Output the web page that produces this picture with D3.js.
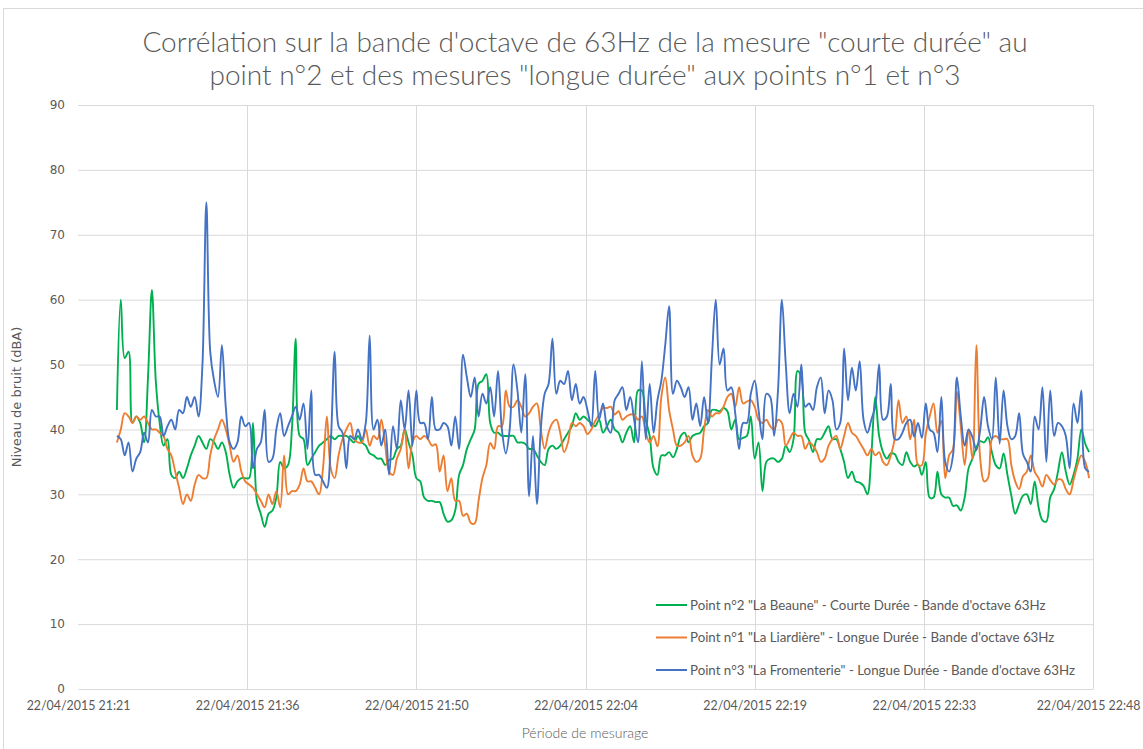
<!DOCTYPE html>
<html>
<head>
<meta charset="utf-8">
<script src="https://cdnjs.cloudflare.com/ajax/libs/d3/7.8.5/d3.min.js"></script>
<style>
  body { margin: 0; background: #fff; }
  text { font-family: Lato, "Noto Sans", sans-serif; fill: #595959; }
</style>
</head>
<body>
<div id="chart"></div>
<script>
// readings every 20 s, starting 21:24:20
var startTime = new Date(2015, 3, 22, 21, 24, 20);
var stepSeconds = 20;

// Point n°2 "La Beaune" - courte durée
var green = [43,60,51,52,41,42,41,38,48,61.5,47.5,41,37.5,38.5,33,32.5,33.5,32.5,34,36,
  37.5,39,38,37,38.5,38,37,38,36.5,33,31,32,32.5,32.5,32.5,41,29,27,25,27,
  27.5,29.5,35,34,34.5,40,54,39,38.5,34.5,35.5,36.5,37.5,38,38.5,39,38.5,39,39,39,
  38.5,38,39,38,37.5,36.3,36,35.5,35.5,34.5,35.3,35.5,37,37.5,40,38,36,32.5,32,29.5,
  29,29,28.8,28.8,27,25.8,26,27.5,33,34.5,37,38.5,40,47,47.5,48.5,41,39.5,39.5,39,
  39,39,39,38,38,37.8,37,37,36,35,34.5,37,37.5,37,37.5,38.5,39.5,40.5,42.5,41.5,
  42,41.5,41,40.5,41.5,39.5,40.5,41.5,40,39.5,38,39.5,40.5,38,46,46,41.5,39,34,33,
  36,36,36.5,35.7,37,39,39.5,38,39,39.3,39.5,40.5,41,43,43,42.8,43.3,42.8,40,41.5,
  38.5,38.7,39,42,35.5,38,30.5,35,35.5,35.5,35,35.5,37.5,36.5,38.5,49,48,39.5,38.3,36.5,
  38.5,38.5,39.5,40.5,38.5,38.5,37,35,32.5,33.5,32,31.8,31.3,30,36,45,39,36.5,35.5,36.3,
  36.2,35,34.5,36.5,35,34.3,34.6,33,35,29.5,29.5,33.5,30,29.5,29.5,28.2,28.3,27.5,29.5,34,
  35.5,37.2,38.2,38,38.8,36.5,34.5,34,36.3,33,29.8,27,28.5,29.8,30,28.5,32,28,26,25.8,
  29.5,30.8,33.5,36.5,33.5,31.5,33,35.5,40,37.8,36.5];

// Point n°1 "La Liardière" - longue durée
var orange = [38,40,42.5,42,41,42,41.5,42,41,40,40,39.5,39,37,36,33.5,31,28.5,30,29,
  31.5,33,32.5,32.5,36,38.5,40,41.5,40,37.5,35,36,33.5,32,31.5,31,30,29,28,30,
  28.5,30.5,28,36,30,30.5,30.5,31.5,34,32,32,31,30,34,42,34,32.5,36,38.5,40,
  41,38.5,38,38,40,37.5,39,38.5,41.5,37.5,33.5,33,35.5,37,40,34,38,39,38.5,39,
  38.5,37.5,37.7,33.5,36,30.5,32.5,29,29,26.7,27,25.6,25.5,29,32.5,34.5,37.9,37,40.5,40.5,
  46,43.5,43.5,44.5,43.5,42,42.5,43.5,44,40,37,39.5,41,41.5,39.5,36.5,38,41,40.5,41,
  40.5,39.3,40,41.3,42.3,43.3,43.3,43.5,42.3,42.8,41.5,42,42.3,42.3,41.5,42,39.5,38,39,37.4,
  45,48,43,40,37.5,37.5,38,39,36,35,35.5,40,43,42,42.5,42.5,43.5,45,45.5,43.5,
  46.5,44,44.3,44.5,43.5,41.5,41,41.5,40.5,40,41.5,41,37.5,38.5,39.5,39,39,37,38,37.5,
  36.5,35,35.5,37.5,38.5,39,37,39,41,39.5,39,38,37,36,37,36,36.5,35,34.5,36,
  38.5,44.5,41,42,38.5,41.5,34.5,34.5,39.3,42,44,39.5,41.3,32.5,36,37,45.8,40.5,34.5,40,
  35.5,53,35.5,32,32.5,38.5,39,38.5,38.5,38.5,34.5,32,30.8,32.8,33.5,36,33.5,32.5,31.2,33,
  32.2,31.5,32.3,32.2,30.8,30,32.2,34.5,36,35,32.5];

// Point n°3 "La Fromenterie" - longue durée
var blue = [39,38.5,36,38,33.5,35.5,36.5,39.5,38,43,42,42,39,40.5,41.5,40,43,42.5,45,43.5,
  45,42,50,75,52,47.5,45,53,43.5,38,37,38,42,40.5,41,34,37,38,43,35,
  35.5,40,42.5,39,40.5,42,43.5,41.5,44,37,46,33,33,32,31,38,52,40.5,39.5,34,
  39,38.5,40,38.5,41,54.5,40,41.5,37.5,40,33,40.5,37,44.5,40,46,37.5,46,41,41,
  38.5,45,40,40,41,40.5,37.5,42,37,51.5,48,45,48,42,45.5,44,46.5,42,49,40,
  36.3,40,50,46,39.5,48.5,29.7,39,28.5,40,45.5,47,54,45.5,47.5,47,49,44.5,47,44,
  45,43,40.5,49,41.5,44,40.5,39.5,44.5,45.5,46.5,43,45,41.5,38,50.5,38.5,47,39.5,44.5,
  47.5,53,59,45.5,47.5,46.5,45,46.5,41.5,44,40.5,45,41,51,60,50,52.5,46,46.5,42.5,
  37,41,41,45.5,47.5,43,38.5,45.5,45,39,46,60,50,42.5,45.5,43.5,50,43.5,44,43,
  46.5,48,42.5,46,44.5,40,41,52.5,44.5,49.5,46,50.5,41.5,39.5,41.5,43.5,50,41.5,42,47,
  38.5,38.5,39.5,41,41.5,38.9,41,38.7,44,40,39.5,36.5,45,35,33.5,36,48,42,37.5,40,
  38.8,36.8,40,45,40.5,38.5,48,37.8,46,40.5,38.5,39,42.5,36.2,35,33.5,42,40,46.5,35,
  46,39,41,40.5,39,34,44,41,46,34,33.5];

var seriesNames = [
  "Point n°2 \"La Beaune\" - Courte Durée - Bande d'octave 63Hz",
  "Point n°1 \"La Liardière\" - Longue Durée - Bande d'octave 63Hz",
  "Point n°3 \"La Fromenterie\" - Longue Durée - Bande d'octave 63Hz"
];
var seriesColors = ["#00b050", "#ed7d31", "#4472c4"];

var xTickLabels = ["22/04/2015 21:21", "22/04/2015 21:36", "22/04/2015 21:50", "22/04/2015 22:04",
  "22/04/2015 22:19", "22/04/2015 22:33", "22/04/2015 22:48"];
var yTicks = [0, 10, 20, 30, 40, 50, 60, 70, 80, 90];

var W = 1143, H = 749;
var margin = {top: 105, left: 78, right: 50, bottom: 60};
var width = W - margin.left - margin.right,
    height = H - margin.top - margin.bottom;

var svg = d3.select("#chart").append("svg")
    .attr("width", W)
    .attr("height", H);

// outer frame of the chart
svg.append("rect")
    .attr("x", 3.5).attr("y", 8.5)
    .attr("width", W + 10).attr("height", H + 10)
    .attr("fill", "none").attr("stroke", "#d9d9d9");

var t0 = new Date(2015, 3, 22, 21, 21, 0),
    t1 = new Date(2015, 3, 22, 22, 48, 0);
var x = d3.scaleTime().domain([t0, t1]).range([0, width]);
var y = d3.scaleLinear().domain([0, 90]).range([height, 0]);

var tickTimes = xTickLabels.map(function(d, i) {
  return new Date(+t0 + i * (t1 - t0) / (xTickLabels.length - 1));
});

var g = svg.append("g").attr("transform", "translate(" + margin.left + "," + margin.top + ")");

// gridlines
g.append("g").selectAll("line").data(yTicks.slice(1)).enter().append("line")
    .attr("x1", 0).attr("x2", width)
    .attr("y1", function(d) { return y(d) + 0.5; })
    .attr("y2", function(d) { return y(d) + 0.5; })
    .attr("stroke", "#d9d9d9");
g.append("g").selectAll("line").data(tickTimes.slice(1)).enter().append("line")
    .attr("x1", function(d) { return Math.round(x(d)) + 0.5; })
    .attr("x2", function(d) { return Math.round(x(d)) + 0.5; })
    .attr("y1", 0).attr("y2", height)
    .attr("stroke", "#d9d9d9");

// axes
var xAxis = g.append("g").attr("transform", "translate(0," + height + ")")
    .call(d3.axisBottom(x).tickValues(tickTimes).tickSize(0).tickPadding(12)
      .tickFormat(function(d, i) { return xTickLabels[i]; }));
var yAxis = g.append("g")
    .call(d3.axisLeft(y).tickValues(yTicks).tickSize(0).tickPadding(13));
[xAxis, yAxis].forEach(function(a) {
  a.select(".domain").attr("stroke", "#d9d9d9");
  a.selectAll("text").attr("fill", "#595959").style("font-size", "12.4px")
    .style("font-family", "Lato, sans-serif");
});
yAxis.select(".domain").remove();
yAxis.selectAll("text").style("font-family", "'DejaVu Sans', sans-serif").style("font-size", "12px");
// last date label sits against the right edge, as in the original
xAxis.selectAll(".tick text").filter(function(d, i) { return i === xTickLabels.length - 1; })
    .attr("dx", -5);

// series
var series = [green, orange, blue];
var line = d3.line()
    .x(function(d, i) { return x(new Date(+startTime + i * stepSeconds * 1000)); })
    .y(function(d) { return y(d); })
    .curve(d3.curveCatmullRom.alpha(0.5));

g.append("g").selectAll("path").data(series).enter().append("path")
    .attr("d", line)
    .attr("fill", "none")
    .attr("stroke", function(d, i) { return seriesColors[i]; })
    .attr("stroke-width", 1.9)
    .attr("stroke-linejoin", "round");

// legend
var legend = svg.append("g").attr("transform", "translate(656,605)");
seriesNames.forEach(function(name, i) {
  var row = legend.append("g").attr("transform", "translate(0," + (i * 32.5) + ")");
  row.append("line").attr("x1", 0).attr("x2", 31).attr("y1", 0).attr("y2", 0)
    .attr("stroke", seriesColors[i]).attr("stroke-width", 2);
  row.append("text").attr("x", 34).attr("y", 0).attr("dy", "0.35em")
    .style("font-size", "13.3px").text(name);
});

// titles
var title = svg.append("text").attr("text-anchor", "middle")
    .style("font-size", "28px").style("font-weight", 300);
title.append("tspan").attr("x", 585).attr("y", 52)
    .text("Corrélation sur la bande d'octave de 63Hz de la mesure \"courte durée\" au");
title.append("tspan").attr("x", 585).attr("y", 85)
    .text("point n°2 et des mesures \"longue durée\" aux points n°1 et n°3");

svg.append("text").attr("text-anchor", "middle")
    .attr("x", 585).attr("y", 738)
    .style("font-size", "14px").style("font-weight", 300)
    .text("Période de mesurage");

svg.append("text").attr("text-anchor", "middle")
    .attr("transform", "translate(21," + (margin.top + height / 2) + ") rotate(-90)")
    .style("font-size", "13px").style("font-family", "'DejaVu Sans', sans-serif")
    .text("Niveau de bruit (dBA)");
</script>
</body>
</html>
